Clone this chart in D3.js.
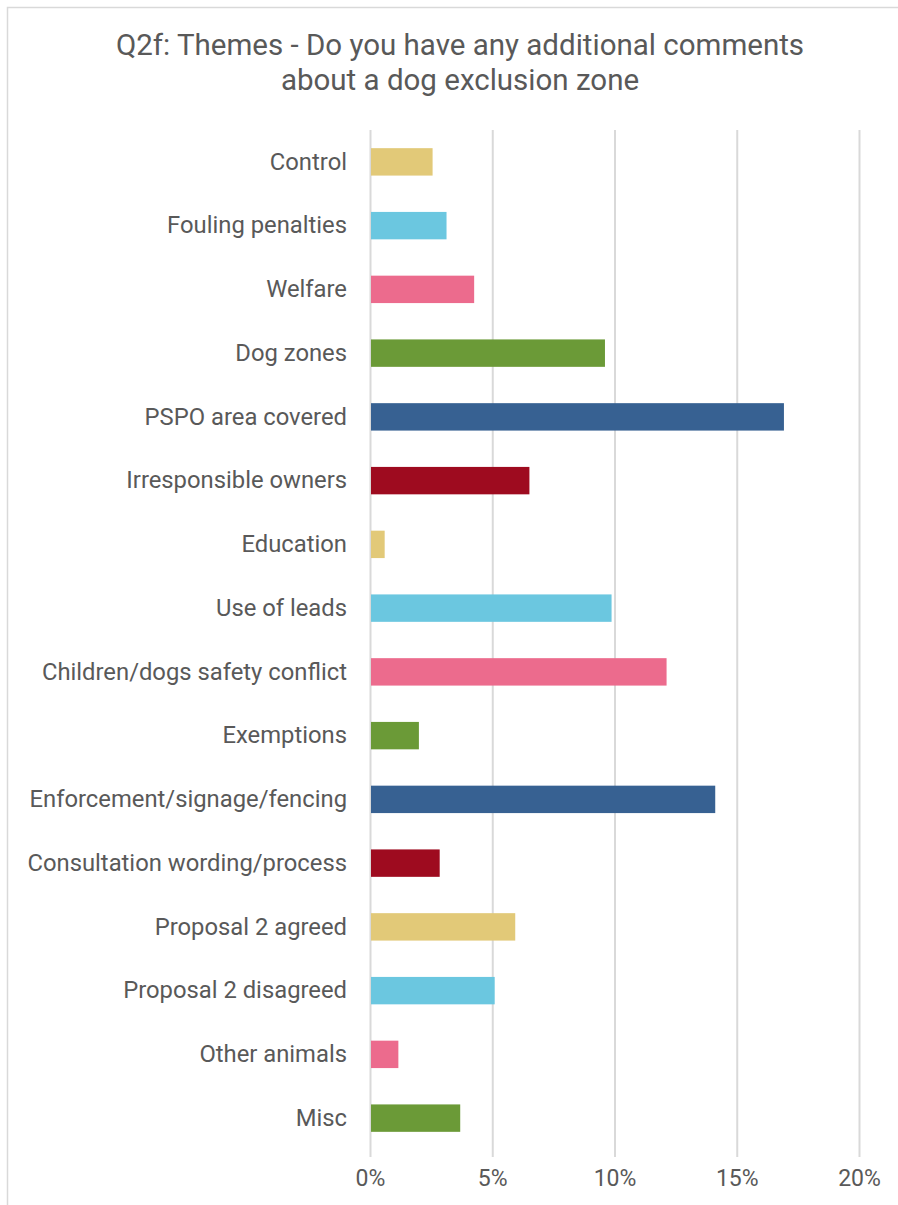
<!DOCTYPE html>
<html><head><meta charset="utf-8">
<script src="https://cdn.jsdelivr.net/npm/d3@7"></script>
<style>html,body{margin:0;padding:0;background:#fff;}svg{display:block;font-family:Roboto,"Noto Sans",sans-serif;}</style>
</head><body><svg id="c" width="898" height="1205"></svg>
<script>
const categories = ["Control","Fouling penalties","Welfare","Dog zones","PSPO area covered","Irresponsible owners","Education","Use of leads","Children/dogs safety conflict","Exemptions","Enforcement/signage/fencing","Consultation wording/process","Proposal 2 agreed","Proposal 2 disagreed","Other animals","Misc"];
const values = [2.56,3.13,4.26,9.61,16.93,6.52,0.6,9.88,12.13,2.0,14.12,2.85,5.94,5.1,1.16,3.69];
const barColors = ["#E2C978","#6BC7E0","#EC6B8D","#6B9A37","#376192","#9E0B1F"];
const tickValues = [0,5,10,15,20];
const titleLines = ["Q2f: Themes - Do you have any additional comments","about a dog exclusion zone"];

const svg = d3.select("#c");
svg.append("rect").attr("x",7.5).attr("y",7.5).attr("width",1000).attr("height",1300)
  .attr("fill","#fff").attr("stroke","#d9d9d9").attr("stroke-width",1.5);

svg.append("g").selectAll("text").data(titleLines).join("text")
  .attr("x",460).attr("y",(d,i)=>55+i*35).attr("text-anchor","middle")
  .attr("font-size",29.5).attr("fill","#595959").text(d=>d);

const x = d3.scaleLinear().domain([0,20]).range([370,859]);
const y = d3.scaleBand().domain(categories).range([130,1150]).paddingInner(0.57).paddingOuter(0.285);

const grid = svg.append("g").attr("transform","translate(0,1157)")
  .call(d3.axisBottom(x).tickValues(tickValues).tickSize(-1027).tickFormat(d=>d+"%").tickPadding(13));
grid.select(".domain").remove();
grid.selectAll(".tick line").attr("stroke","#d9d9d9").attr("stroke-width",2);
grid.selectAll(".tick text").attr("font-size",23).attr("fill","#595959").attr("font-family","Roboto");

svg.append("g").selectAll("rect").data(values).join("rect")
  .attr("x",x(0)+1).attr("y",(d,i)=>y(categories[i]))
  .attr("width",d=>x(d)-x(0)-1).attr("height",y.bandwidth())
  .attr("fill",(d,i)=>barColors[i%barColors.length]);

const yax = svg.append("g").attr("transform","translate(370,0)")
  .call(d3.axisLeft(y).tickSize(0).tickPadding(23));
yax.select(".domain").remove();
yax.selectAll(".tick text").attr("font-size",23.8).attr("fill","#595959").attr("font-family","Roboto");
</script></body></html>
